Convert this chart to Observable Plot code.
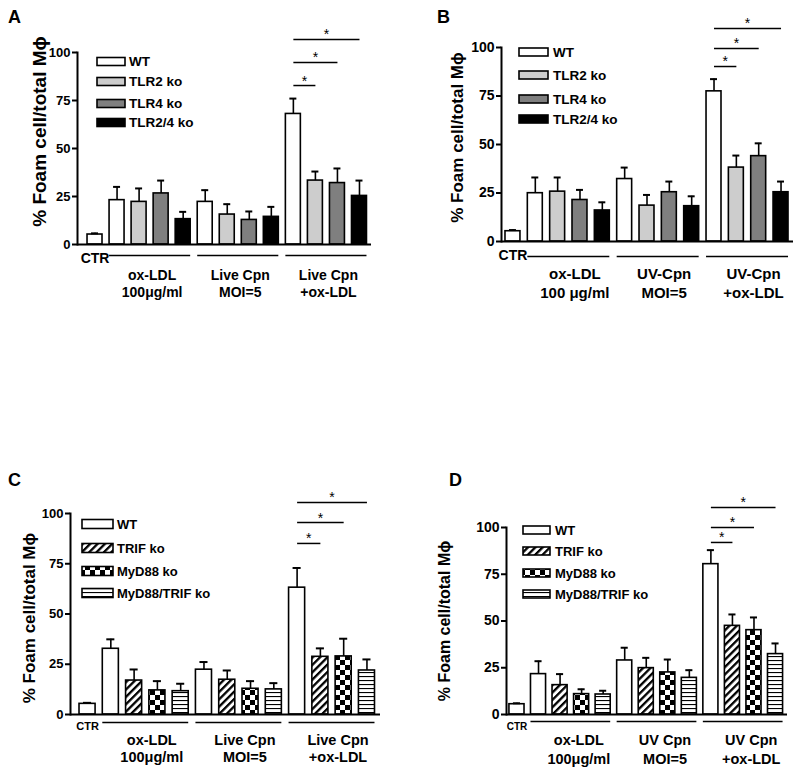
<!DOCTYPE html>
<html><head><meta charset="utf-8">
<script src="https://cdn.jsdelivr.net/npm/d3@7"></script>
<script src="https://cdn.jsdelivr.net/npm/@observablehq/plot@0.6"></script>
<style>
body{margin:0;background:#fff;}
#root{position:relative;width:800px;height:775px;font-family:"Liberation Sans",Arial,sans-serif;background:#fff;overflow:hidden;}
#root svg{position:absolute;overflow:visible;}
</style>
</head><body><div id="root"></div>
<script>
// ---------- data ----------
const yTicks = [0, 25, 50, 75, 100];
const yTitle = "% Foam cell/total Mϕ";
const ctrLabel = "CTR";

const seriesTLR = ["WT", "TLR2 ko", "TLR4 ko", "TLR2/4 ko"];
const seriesMyD = ["WT", "TRIF ko", "MyD88 ko", "MyD88/TRIF ko"];

// Panel A
const aConditions = ["ox-LDL\n100μg/ml", "Live Cpn\nMOI=5", "Live Cpn\n+ox-LDL"];
const aCtr = [5.2, 0.6];
const aMeans = [[23.1, 22.2, 26.6, 13.2], [22.2, 15.6, 12.8, 14.4], [68.0, 33.3, 32.0, 25.3]];
const aErrs = [[6.9, 7.0, 6.7, 3.8], [6.1, 5.4, 4.4, 5.2], [8.0, 4.7, 7.6, 8.0]];
const aSig = [82.8, 94.8, 106.8];

// Panel B
const bConditions = ["ox-LDL\n100 μg/ml", "UV-Cpn\nMOI=5", "UV-Cpn\n+ox-LDL"];
const bCtr = [5.3, 0.6];
const bMeans = [[24.9, 25.7, 21.4, 16.0], [32.2, 18.5, 25.4, 18.2], [77.4, 38.1, 44.0, 25.4]];
const bErrs = [[8.1, 7.3, 5.2, 4.2], [5.9, 5.5, 5.5, 5.1], [6.3, 6.2, 6.6, 5.5]];
const bSig = [90.2, 99.5, 109.8];

// Panel C
const cConditions = ["ox-LDL\n100μg/ml", "Live Cpn\nMOI=5", "Live Cpn\n+ox-LDL"];
const cCtr = [5.3, 0.5];
const cMeans = [[32.7, 16.9, 12.0, 11.6], [22.3, 17.3, 12.8, 12.5], [63.1, 28.7, 28.9, 21.9]];
const cErrs = [[4.7, 5.5, 4.6, 3.7], [3.8, 4.6, 3.8, 3.1], [9.8, 4.2, 8.8, 5.5]];
const cSig = [85.1, 95.5, 105.5];

// Panel D
const dConditions = ["ox-LDL\n100μg/ml", "UV Cpn\nMOI=5", "UV Cpn\n+ox-LDL"];
const dCtr = [5.5, 0.5];
const dMeans = [[21.6, 15.7, 10.9, 10.7], [28.9, 24.8, 22.5, 19.6], [80.4, 47.4, 45.1, 32.3]];
const dErrs = [[6.9, 5.9, 2.6, 2.0], [6.8, 5.5, 6.9, 4.1], [7.5, 6.1, 6.8, 5.7]];
const dSig = [92.0, 100.0, 110.7];

const fillsTLR = ["#ffffff", "#cdcdcd", "#7f7f7f", "#000000"];
const fillsMyD = ["#ffffff", "url(#pDiag)", "url(#pCheck)", "url(#pHline)"];

// ---------- layout ----------
const root = d3.select("#root");
const FONT = "Liberation Sans, Arial, sans-serif";

// overlay svg with pattern defs, legends, panel letters
const ov = root.append("svg").attr("width", 800).attr("height", 775)
  .style("left", "0px").style("top", "0px").style("pointer-events", "none");
const defs = ov.append("defs");
{
  const p = defs.append("pattern").attr("id", "pDiag").attr("patternUnits", "userSpaceOnUse")
    .attr("width", 5.2).attr("height", 5.2).attr("patternTransform", "rotate(45)");
  p.append("rect").attr("width", 5.2).attr("height", 5.2).attr("fill", "#fff");
  p.append("rect").attr("width", 2.3).attr("height", 5.2).attr("fill", "#000");
  const c = defs.append("pattern").attr("id", "pCheck").attr("patternUnits", "userSpaceOnUse")
    .attr("width", 10).attr("height", 10);
  c.append("rect").attr("width", 10).attr("height", 10).attr("fill", "#fff");
  c.append("rect").attr("width", 5).attr("height", 5).attr("fill", "#000");
  c.append("rect").attr("x", 5).attr("y", 5).attr("width", 5).attr("height", 5).attr("fill", "#000");
  const h = defs.append("pattern").attr("id", "pHline").attr("patternUnits", "userSpaceOnUse")
    .attr("width", 4).attr("height", 4);
  h.append("rect").attr("width", 4).attr("height", 4).attr("fill", "#fff");
  h.append("rect").attr("width", 4).attr("height", 1.1).attr("fill", "#000");
}

const panels = [
  {letter: "A", lx: 8, ly: 23, ox: 0, oy: 0, h: 340, mt: 52, mb: 96, ml: 77, mr: 29, xr: [83.5, 370], pi: 0.32,
   conds: aConditions, series: seriesTLR, ctr: aCtr, means: aMeans, errs: aErrs, sig: aSig, fills: fillsTLR,
   tickFont: 13, ctrFont: 14, ctrDy: 14, lineDy: 11, labelDy: 38.5, labelDx: 2, labelFont: 14, lh: 1.2,
   titleFont: 19, tdx: -37.5, tdy: -17,
   leg: {x: 97, w: 28, h: 8, rows: [61.5, 81.5, 103.5, 122.5], tx: 129, font: 13.5}},
  {letter: "B", lx: 437, ly: 23, ox: 400, oy: 0, h: 340, mt: 47, mb: 99, ml: 101, mr: 7, xr: [101.3, 391.7], pi: 0.33,
   conds: bConditions, series: seriesTLR, ctr: bCtr, means: bMeans, errs: bErrs, sig: bSig, fills: fillsTLR,
   tickFont: 14, ctrFont: 14, ctrDy: 14, lineDy: 15, labelDy: 40.5, labelDx: 6, labelFont: 15, lh: 1.3,
   titleFont: 17, tdx: -43.5, tdy: -7,
   leg: {x: 519, w: 29, h: 8, rows: [52, 75, 99, 119], tx: 553, font: 13.5}},
  {letter: "C", lx: 8, ly: 486, ox: 0, oy: 380, h: 395, mt: 133, mb: 61, ml: 70, mr: 20, xr: [75.4, 378.1], pi: 0.31,
   conds: cConditions, series: seriesMyD, ctr: cCtr, means: cMeans, errs: cErrs, sig: cSig, fills: fillsMyD,
   tickFont: 13, ctrFont: 11, ctrDy: 12, lineDy: 8, labelDy: 33.5, labelDx: 6, labelFont: 14.5, lh: 1.2,
   titleFont: 17, tdx: -40.5, tdy: 4,
   leg: {x: 82, w: 31, h: 9, rows: [524, 548, 571, 593], tx: 117, font: 13}},
  {letter: "D", lx: 449, ly: 486, ox: 400, oy: 380, h: 395, mt: 147, mb: 61, ml: 106, mr: 13, xr: [105.7, 385.8], pi: 0.30,
   conds: dConditions, series: seriesMyD, ctr: dCtr, means: dMeans, errs: dErrs, sig: dSig, fills: fillsMyD,
   tickFont: 14, ctrFont: 10, ctrDy: 12, lineDy: 7, labelDy: 34, labelDx: 8, labelFont: 14.5, lh: 1.3,
   titleFont: 16, tdx: -61.5, tdy: 0,
   leg: {x: 523, w: 27, h: 8, rows: [530, 551, 573, 594], tx: 555, font: 13}}
];

for (const cfg of panels) {
  const keys = [ctrLabel];
  const rows = [{key: ctrLabel, s: 0, value: cfg.ctr[0], err: cfg.ctr[1]}];
  cfg.conds.forEach((c, ci) => cfg.series.forEach((s, si) => {
    const k = `${ci}-${si}`;
    keys.push(k);
    rows.push({key: k, s: si, value: cfg.means[ci][si], err: cfg.errs[ci][si]});
  }));
  const step = (cfg.xr[1] - cfg.xr[0]) / keys.length;
  const groups = cfg.conds.map((c, ci) => ({label: c, first: `${ci}-0`, second: `${ci}-1`, last: `${ci}-3`}));
  const last = cfg.conds.length - 1;
  const sig = cfg.sig.map((lvl, j) => ({a: `${last}-0`, b: `${last}-${j + 1}`, y: lvl, k: j + 1}));

  const svg = Plot.plot({
    width: 400, height: cfg.h,
    marginTop: cfg.mt, marginBottom: cfg.mb, marginLeft: cfg.ml, marginRight: cfg.mr,
    style: {fontFamily: FONT, color: "#000", background: "transparent", overflow: "visible"},
    x: {type: "band", domain: keys, range: cfg.xr, paddingInner: cfg.pi, paddingOuter: cfg.pi / 2, round: false, axis: null},
    y: {domain: [0, 100], axis: null},
    color: {type: "identity"},
    marks: [
      Plot.barY(rows, {x: "key", y: "value", fill: d => cfg.fills[d.s], stroke: "#000", strokeWidth: 1.6}),
      Plot.ruleX(rows, {x: "key", y1: "value", y2: d => d.value + d.err, stroke: "#000", strokeWidth: 1.6}),
      Plot.tickY(rows, {x: "key", y: d => d.value + d.err, stroke: "#000", strokeWidth: 2, insetLeft: 4, insetRight: 4}),
      Plot.ruleY([0], {stroke: "#000", strokeWidth: 2}),
      Plot.frame({anchor: "left", stroke: "#000", strokeWidth: 2}),
      Plot.axisY({ticks: yTicks, tickSize: 5, tickPadding: 2, fontSize: cfg.tickFont, fontWeight: "bold", strokeWidth: 2, label: null}),
      Plot.text([ctrLabel], {x: d => d, y: 0, dy: cfg.ctrDy, text: d => d, fontSize: cfg.ctrFont, fontWeight: "bold"}),
      Plot.ruleY(groups, {x1: "first", x2: "last", y: 0, dy: cfg.lineDy, stroke: "#000", strokeWidth: 1.5}),
      Plot.text(groups, {x: "second", y: 0, dx: step / 2 + cfg.labelDx, dy: cfg.labelDy, text: "label",
        fontSize: cfg.labelFont, fontWeight: "bold", lineHeight: cfg.lh}),
      Plot.link(sig, {x1: "a", x2: "b", y1: "y", y2: "y", stroke: "#000", strokeWidth: 1.5}),
      ...sig.map(d => Plot.text([d], {x: "a", y: "y", dx: d.k * step / 2, dy: -4.5, text: () => "*", fontSize: 14})),
      Plot.text([yTitle], {frameAnchor: "left", textAnchor: "middle", lineAnchor: "middle", rotate: -90,
        dx: cfg.tdx, dy: cfg.tdy, text: d => d, fontSize: cfg.titleFont, fontWeight: "bold"})
    ]
  });
  svg.style.left = cfg.ox + "px";
  svg.style.top = cfg.oy + "px";
  root.node().appendChild(svg);

  // panel letter
  ov.append("text").attr("x", cfg.lx).attr("y", cfg.ly).text(cfg.letter)
    .attr("font-family", FONT).attr("font-weight", "bold").attr("font-size", 18);

  // legend
  const L = cfg.leg;
  cfg.series.forEach((s, i) => {
    const cy = L.rows[i];
    ov.append("rect").attr("x", L.x).attr("y", cy - L.h / 2).attr("width", L.w).attr("height", L.h)
      .attr("fill", cfg.fills[i]).attr("stroke", "#000").attr("stroke-width", 1.6);
    ov.append("text").attr("x", L.tx).attr("y", cy).attr("dy", "0.35em").text(s)
      .attr("font-family", FONT).attr("font-weight", "bold").attr("font-size", L.font);
  });
}
ov.raise();
</script>
</body></html>
